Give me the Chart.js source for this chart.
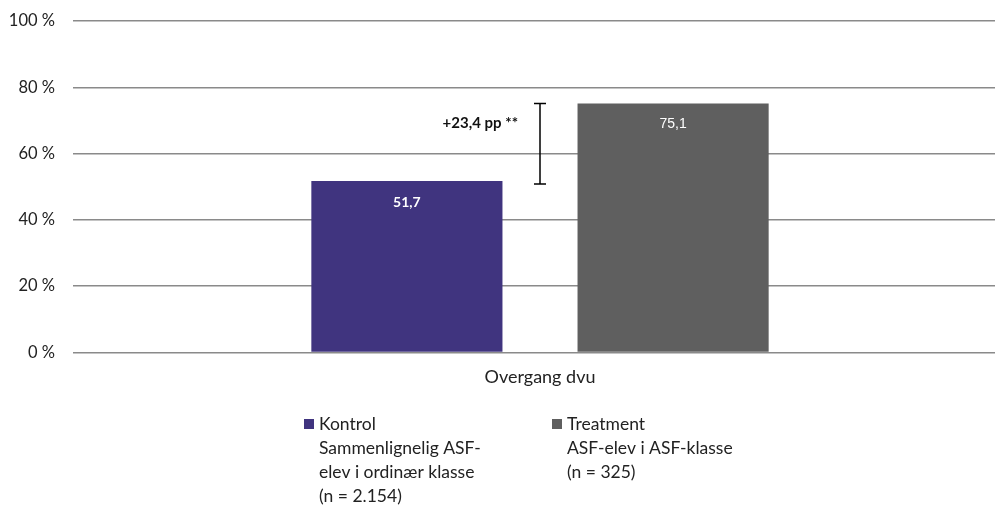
<!DOCTYPE html>
<html>
<head>
<meta charset="utf-8">
<script src="https://cdn.jsdelivr.net/npm/chart.js@4"></script>
<style>
  html, body { margin: 0; padding: 0; background: #fff; overflow: hidden; }
  #wrap { position: relative; width: 1007px; height: 505px; }
</style>
</head>
<body>
<div id="wrap"><canvas id="chart"></canvas></div>
<script>
// data
const categories = ['Overgang dvu'];
const seriesNames = ['Kontrol', 'Treatment'];
const seriesSub = [
  ['Sammenlignelig ASF-', 'elev i ordinær klasse', '(n = 2.154)'],
  ['ASF-elev i ASF-klasse', '(n = 325)']
];
const kontrolValues = [51.7];
const treatmentValues = [75.1];
const yTicks = [0, 20, 40, 60, 80, 100];
const diffLabel = '+23,4 pp **';

const colors = ['#40347f', '#5f5f5f'];
const fontFam = 'Lato, "Source Sans Pro", sans-serif';

function fmt(v) {
  return v.toFixed(1).replace('.', ',');
}

// value labels inside the bars, difference marker and legend
const extras = {
  id: 'extras',
  afterDatasetsDraw(chart) {
    const ctx = chart.ctx;
    const y = chart.scales.y;
    ctx.save();
    ctx.textAlign = 'center';
    ctx.textBaseline = 'middle';
    chart.data.datasets.forEach((ds, i) => {
      chart.getDatasetMeta(i).data.forEach((bar, j) => {
        ctx.fillStyle = '#fff';
        ctx.font = i === 0 ? 'bold 14px ' + fontFam : '14px "Liberation Sans", Arial, sans-serif';
        ctx.fillText(fmt(ds.data[j]), bar.x, bar.y + 21);
      });
    });

    // difference bar between the two series
    const b0 = chart.getDatasetMeta(0).data[0];
    const b1 = chart.getDatasetMeta(1).data[0];
    const ex = (b0.x + b0.width / 2 + b1.x - b1.width / 2) / 2;
    const yTop = y.getPixelForValue(treatmentValues[0]);
    const yBot = y.getPixelForValue(kontrolValues[0]) + 3;
    ctx.strokeStyle = '#000';
    ctx.lineWidth = 1.5;
    ctx.beginPath();
    ctx.moveTo(ex, yTop); ctx.lineTo(ex, yBot);
    ctx.moveTo(ex - 6, yTop); ctx.lineTo(ex + 6, yTop);
    ctx.moveTo(ex - 6, yBot); ctx.lineTo(ex + 6, yBot);
    ctx.stroke();
    ctx.fillStyle = '#111';
    ctx.font = 'bold 15px ' + fontFam;
    ctx.textAlign = 'right';
    ctx.fillText(diffLabel, ex - 22, yTop + 20);

    // legend
    const legX = [304, 552];
    ctx.textAlign = 'left';
    ctx.font = '17.5px ' + fontFam;
    seriesNames.forEach((name, i) => {
      ctx.fillStyle = colors[i];
      ctx.fillRect(legX[i], 419, 10, 10);
      ctx.fillStyle = '#222';
      const lines = [name].concat(seriesSub[i]);
      lines.forEach((t, k) => {
        ctx.fillText(t, legX[i] + 15, 424 + k * 24);
      });
    });
    ctx.restore();
  }
};

new Chart(document.getElementById('chart'), {
  type: 'bar',
  data: {
    labels: categories,
    datasets: [
      { label: seriesNames[0], data: kontrolValues, backgroundColor: colors[0] },
      { label: seriesNames[1], data: treatmentValues, backgroundColor: colors[1] }
    ]
  },
  options: {
    responsive: true,
    maintainAspectRatio: false,
    animation: false,
    categoryPercentage: 0.57,
    barPercentage: 0.718,
    layout: { padding: { top: 21, bottom: 111, left: 0, right: 0 } },
    plugins: { legend: { display: false }, tooltip: { enabled: false } },
    scales: {
      x: {
        grid: { display: false },
        border: { display: false },
        ticks: { color: '#222', font: { family: fontFam, size: 18 }, padding: 6 }
      },
      y: {
        min: 0,
        max: 100,
        afterBuildTicks(scale) { scale.ticks = yTicks.map(v => ({ value: v })); },
        afterFit(scale) {
          scale.width = 73;
          scale.paddingTop = 0;
          scale.paddingBottom = 0;
        },
        grid: { color: '#8a8a8a', lineWidth: 1.5, drawTicks: false },
        border: { display: false },
        ticks: {
          color: '#222',
          padding: 18,
          font: { family: fontFam, size: 16.5 },
          callback: v => v + ' %'
        }
      }
    }
  },
  plugins: [extras]
});
</script>
</body>
</html>
